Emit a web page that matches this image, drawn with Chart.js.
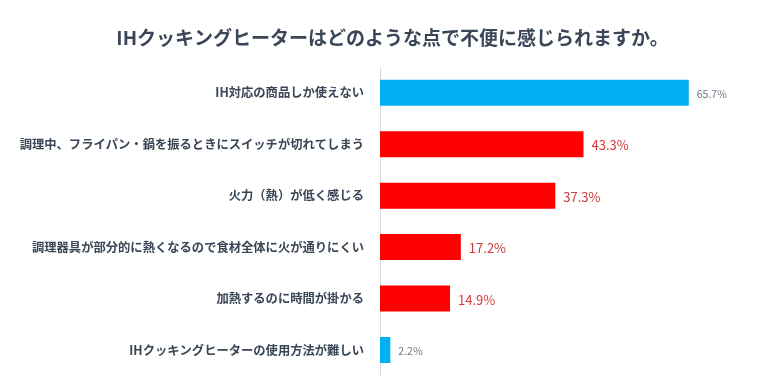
<!DOCTYPE html>
<html>
<head>
<meta charset="utf-8">
<script src="https://cdn.jsdelivr.net/npm/chart.js@4/dist/chart.umd.min.js"></script>
<style>
html,body{margin:0;padding:0;background:#fff;}
#wrap{width:760px;height:380px;position:relative;}
</style>
</head>
<body>
<div id="wrap"><canvas id="c" width="760" height="380"></canvas></div>
<script>
const titleText = 'IHクッキングヒーターはどのような点で不便に感じられますか。';
const categories = [
  'IH対応の商品しか使えない',
  '調理中、フライパン・鍋を振るときにスイッチが切れてしまう',
  '火力（熱）が低く感じる',
  '調理器具が部分的に熱くなるので食材全体に火が通りにくい',
  '加熱するのに時間が掛かる',
  'IHクッキングヒーターの使用方法が難しい'
];
const values = [65.7, 43.3, 37.3, 17.2, 14.9, 2.2];
const highlight = [false, true, true, true, true, false];

const BLUE = '#00b0f0', RED = '#ff0000';
const FONT = "'Noto Sans CJK JP', 'Noto Sans', sans-serif";

const titlePlugin = {
  id: 'titleText',
  afterDraw(chart) {
    const ctx = chart.ctx;
    ctx.save();
    ctx.font = 'bold 19px ' + FONT;
    ctx.fillStyle = '#3b4758';
    ctx.textAlign = 'center';
    ctx.textBaseline = 'middle';
    ctx.fillText(titleText, 392.5, 38);
    ctx.restore();
  }
};

const valueLabels = {
  id: 'valueLabels',
  afterDatasetsDraw(chart) {
    const ctx = chart.ctx;
    const meta = chart.getDatasetMeta(0);
    ctx.save();
    ctx.textBaseline = 'middle';
    ctx.textAlign = 'left';
    meta.data.forEach((bar, i) => {
      const hi = highlight[i];
      ctx.font = (hi ? '13px ' : '10.5px ') + FONT;
      ctx.fillStyle = hi ? '#d03a3a' : '#6f7782';
      ctx.fillText(values[i].toFixed(1) + '%', bar.x + 8, bar.y + 1);
    });
    ctx.restore();
  }
};

new Chart(document.getElementById('c'), {
  type: 'bar',
  data: {
    labels: categories,
    datasets: [{
      data: values,
      backgroundColor: highlight.map(h => h ? RED : BLUE),
      borderWidth: 0,
      barPercentage: 0.505,
      categoryPercentage: 1
    }]
  },
  options: {
    indexAxis: 'y',
    responsive: false,
    animation: false,
    events: [],
    layout: { autoPadding: false, padding: { left: 0, right: 51, top: 67, bottom: 4.25 } },
    plugins: {
      legend: { display: false },
      tooltip: { enabled: false },
      title: { display: false }
    },
    scales: {
      x: { display: false, min: 0, max: 70, afterFit(s) { s.height = 0; } },
      y: {
        afterFit(scale) {
          scale.width = 380;
          scale.paddingTop = 0; scale.paddingBottom = 0;
        },
        grid: { display: false, drawTicks: false },
        border: { display: true, color: '#d9d9d9', width: 1 },
        ticks: {
          color: '#3a4655',
          padding: 16,
          font: { family: FONT, size: 12.3, weight: 'bold' }
        }
      }
    }
  },
  plugins: [valueLabels, titlePlugin]
});
</script>
</body>
</html>
